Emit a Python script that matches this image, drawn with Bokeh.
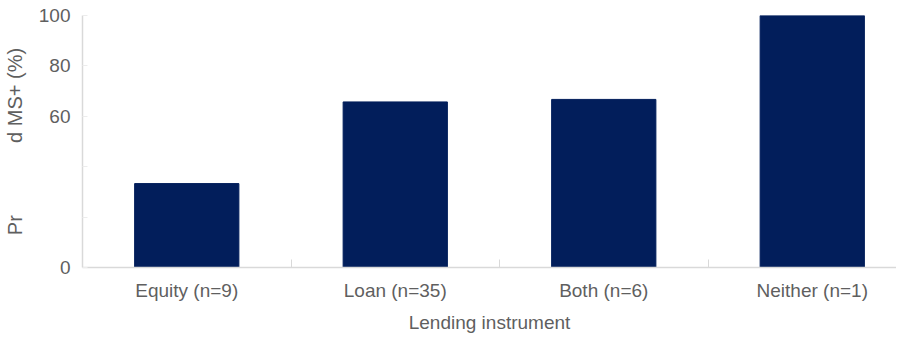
import math
from bokeh.plotting import figure
from bokeh.models import FixedTicker, ColumnDataSource, Range1d
from bokeh.embed import file_html
from bokeh.resources import INLINE

categories = ["Equity (n=9)", "Loan (n=35)", "Both (n=6)", "Neither (n=1)"]
values = [33.3, 65.7, 66.7, 100.0]
y_ticks = [0, 20, 40, 60, 80, 100]
y_tick_labels = ["0", "", "", "60", "80", "100"]
y_label = "Pr" + "\u00a0" * 13 + "d MS+ (%)"

positions = [i + 0.5 for i in range(len(categories))]
src = ColumnDataSource(dict(x=positions, top=values, name=categories))

p = figure(width=896, height=335, output_backend="svg", toolbar_location=None,
           x_range=Range1d(0, 3.904), y_range=Range1d(0, 100),
           min_border_left=80, min_border_right=0, min_border_top=15, min_border_bottom=60)
p.outline_line_color = None
p.xgrid.visible = False
p.ygrid.visible = False
p.background_fill_color = "white"
p.border_fill_color = "white"

p.vbar(x="x", top="top", width=0.5, bottom=0, source=src,
       fill_color="#021E5B", line_color="#021E5B")

txt = "#5f5f5f"
axc = "#d9d9d9"
fs = "19px"

p.xaxis.ticker = FixedTicker(ticks=positions, minor_ticks=[1, 2, 3])
p.xaxis.major_label_overrides = {pos: c for pos, c in zip(positions, categories)}
p.xaxis.major_tick_in = 0
p.xaxis.major_tick_out = 0
p.xaxis.minor_tick_in = 8
p.xaxis.minor_tick_out = 0
p.xaxis.minor_tick_line_color = axc
p.xaxis.axis_line_color = axc
p.xaxis.axis_line_width = 1.5
p.xaxis.major_label_text_font = "Liberation Sans"
p.xaxis.major_label_text_font_size = fs
p.xaxis.major_label_text_color = txt
p.xaxis.major_label_standoff = 12
p.xaxis.axis_label = "Lending instrument"
p.xaxis.axis_label_text_font = "Liberation Sans"
p.xaxis.axis_label_text_font_size = fs
p.xaxis.axis_label_text_font_style = "normal"
p.xaxis.axis_label_text_color = txt
p.xaxis.axis_label_standoff = 8

p.yaxis.ticker = FixedTicker(ticks=y_ticks, minor_ticks=[])
p.yaxis.major_label_overrides = {t: l for t, l in zip(y_ticks, y_tick_labels)}
p.yaxis.major_tick_in = 5
p.yaxis.major_tick_out = 0
p.yaxis.major_tick_line_color = "#ececec"
p.yaxis.axis_line_color = axc
p.yaxis.axis_line_width = 1.5
p.yaxis.major_label_text_font = "Liberation Sans"
p.yaxis.major_label_text_font_size = fs
p.yaxis.major_label_text_color = txt
p.yaxis.major_label_standoff = 12
p.yaxis.axis_label = y_label
p.yaxis.axis_label_text_font = "Liberation Sans"
p.yaxis.axis_label_text_font_size = "20px"
p.yaxis.axis_label_text_font_style = "normal"
p.yaxis.axis_label_text_color = txt
p.yaxis.axis_label_standoff = 10

open("out.html", "w").write(file_html(p, INLINE))
